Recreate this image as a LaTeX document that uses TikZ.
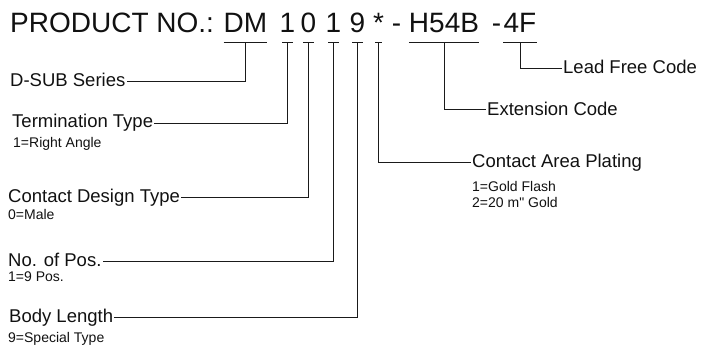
\documentclass[tikz,border=0pt]{standalone}
\usepackage{fontspec}
\setmainfont{Liberation Sans}
\newfontfamily\plainquotes{Liberation Sans}[Ligatures=TeXOff]
\usetikzlibrary{positioning}
\definecolor{Ink}{HTML}{111111}
\definecolor{Lead}{HTML}{1A1A1A}

\begin{document}
\begin{tikzpicture}[x=1pt,y=1pt,
  codepart/.style={font=\fontsize{28}{32}\selectfont,text=Ink,inner xsep=0pt,inner ysep=0pt,text height=19pt,text depth=9pt,anchor=base},
  field/.style={font=\fontsize{18.5}{22}\selectfont,text=Ink,inner sep=1pt,text height=10pt,text depth=0pt},
  values/.style={font=\fontsize{14}{16}\selectfont,text=Ink,inner sep=0pt,anchor=base west,align=left},
  uline/.style={draw=Lead,line width=1pt},
  digitmark/.style={uline,shorten <=2.5pt,shorten >=2.5pt},
  leader/.style={draw=Lead,line width=1pt}
]
\useasboundingbox (0,0) rectangle (702,-345);
% product number, one node per code part
\node[codepart,anchor=base west] (prodno) at (10,-33) {PRODUCT NO.:};
\node[codepart] (dm) at (245.5,-33) {DM};
\node[codepart] (term1) at (287.5,-33) {1};
\node[codepart] (cont0) at (308.5,-33) {0};
\node[codepart] (pos1) at (333.5,-33) {1};
\node[codepart] (body9) at (357.5,-33) {9};
\node[codepart] (star) at (378.5,-33) {*};
\node[codepart] (dashA) at (396.5,-33) {-};
\node[codepart] (h54b) at (444,-33) {H54B};
\node[codepart] (dashB) at (496.5,-33) {-};
\node[codepart] (fourf) at (520,-33) {4F};
\draw[uline] (dm.south west) -- (dm.south east);
\draw[uline] (h54b.south west) -- (h54b.south east);
\draw[uline] (fourf.south west) -- (fourf.south east);
\foreach \d in {term1,cont0,pos1,body9,star}
  \draw[digitmark] (\d.south west) -- (\d.south east);

% left side fields
\node[field,anchor=west] (dsub) at (9,-82) {D-SUB Series};
\node[field,anchor=west] (termtype) at (11,-123) {Termination Type};
\node[values] (termval) at (13,-147) {1=Right Angle};
\node[field,anchor=west] (design) at (7,-197) {Contact Design Type};
\node[values] (designval) at (8,-219) {0=Male};
\node[field,anchor=west] (nopos) at (7,-261) {No. of Pos.};
\node[values] (noposval) at (8,-281) {1=9 Pos.};
\node[field,anchor=west] (length) at (8,-317) {Body Length};
\node[values] (lengthval) at (8,-342) {9=Special Type};

% right side fields
\node[field,anchor=west] (leadfree) at (562,-69) {Lead Free Code};
\node[field,anchor=west] (extcode) at (486,-110) {Extension Code};
\node[field,anchor=west] (plating) at (471,-162) {Contact Area Plating};
\node[values] (platingval) at (472,-207) {1=Gold Flash\\{\plainquotes 2=20 m" Gold}};

\draw[leader] (dm.south) |- (dsub.east);
\draw[leader] (term1.south) |- (termtype.east);
\draw[leader] (cont0.south) |- (design.east);
\draw[leader] (pos1.south) |- (nopos.east);
\draw[leader] (body9.south) |- (length.east);
\draw[leader] (star.south) |- (plating.west);
\draw[leader] (h54b.south) |- (extcode.west);
\draw[leader] (fourf.south) |- (leadfree.west);
\end{tikzpicture}
\end{document}
